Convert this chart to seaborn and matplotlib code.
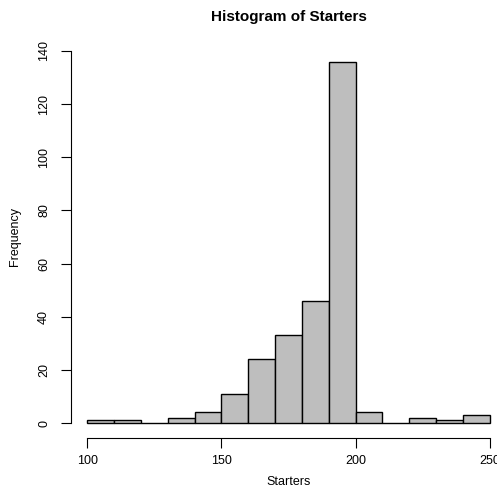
import numpy as np
import pandas as pd
import matplotlib
matplotlib.use("Agg")
import matplotlib.pyplot as plt
import seaborn as sns

# Histogram bins (left edges and right edge) and counts per bin
bin_edges = [100, 110, 120, 130, 140, 150, 160, 170, 180, 190, 200, 210, 220, 230, 240, 250]
counts = [1, 1, 0, 2, 4, 11, 24, 33, 46, 136, 4, 0, 2, 1, 3]
x_ticks = [100, 150, 200, 250]
y_ticks = [0, 20, 40, 60, 80, 100, 120, 140]

sns.set_style("white")
plt.rcParams["font.family"] = ["Liberation Sans", "DejaVu Sans"]
plt.rcParams["text.color"] = "black"
plt.rcParams["axes.labelcolor"] = "black"

W = H = 497
fig = plt.figure(figsize=(W / 100, H / 100), dpi=100)
# plot region in pixels: left 71, right 506, top 36, bottom 438
ax = fig.add_axes([71 / W, 1 - 438 / H, (506 - 71) / W, (438 - 36) / H])

edges = np.array(bin_edges, dtype=float)
df = pd.DataFrame({"Starters": (edges[:-1] + edges[1:]) / 2, "n": counts})
sns.histplot(data=df, x="Starters", weights="n", bins=list(bin_edges),
             color="#BEBEBE", edgecolor="black", linewidth=1.0, alpha=1.0, ax=ax)

xr = edges[-1] - edges[0]
ax.set_xlim(edges[0] - 0.04 * xr, edges[-1] + 0.04 * xr)
ax.set_ylim(-0.04 * 140, 140 * 1.04)

for s in ["top", "right"]:
    ax.spines[s].set_visible(False)
ax.spines["bottom"].set_bounds(x_ticks[0], x_ticks[-1])
ax.spines["left"].set_bounds(y_ticks[0], y_ticks[-1])
for s in ["bottom", "left"]:
    ax.spines[s].set_color("black")
    ax.spines[s].set_linewidth(0.8)

ax.set_xticks(x_ticks)
ax.set_yticks(y_ticks)
ax.set_yticklabels([str(v) for v in y_ticks], rotation=90, va="center")
ax.tick_params(axis="both", direction="out", length=7, width=0.8,
               color="black", labelsize=9, labelcolor="black")
ax.tick_params(axis="x", pad=5)
ax.tick_params(axis="y", pad=8)
ax.tick_params(left=True, bottom=True)

ax.set_xlabel("Starters", fontsize=9, labelpad=7)
ax.set_ylabel("Frequency", fontsize=9, labelpad=12)
fig.text((71 + 506) / 2 / W, 1 - 17 / H, "Histogram of Starters",
         ha="center", va="center", fontsize=11, fontweight="bold", color="black")

fig.savefig("out.png", dpi=100)
